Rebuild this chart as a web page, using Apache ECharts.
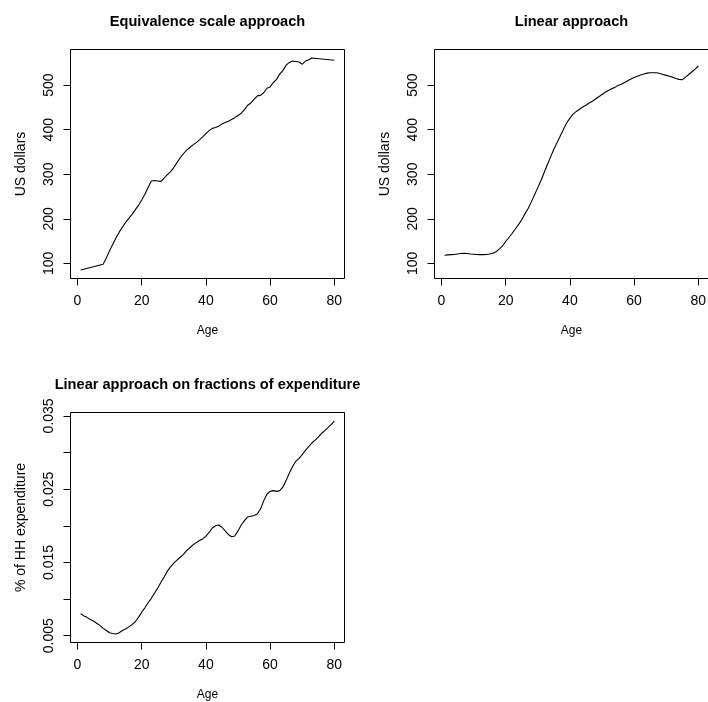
<!DOCTYPE html>
<html>
<head>
<meta charset="utf-8">
<title>Expenditure by age</title>
<script src="https://cdn.jsdelivr.net/npm/echarts@6/dist/echarts.min.js"></script>
<style>
  html, body { margin: 0; padding: 0; background: #fff; }
  #main { width: 708px; height: 702px; }
</style>
</head>
<body>
<div id="main"></div>
<script>
// equivalence scale approach (the curve is straight between 1-8 and 73-80)
var eqAges = [1, 8, 9, 10, 11, 12, 13, 14, 15, 16, 17, 18, 19, 20, 21, 22, 23, 24, 25, 26,
  27, 28, 29, 30, 31, 32, 33, 34, 35, 36, 37, 38, 39, 40, 41, 42, 43, 44, 45, 46, 47, 48,
  49, 50, 51, 52, 53, 54, 55, 56, 57, 58, 59, 60, 61, 62, 63, 64, 65, 66, 67, 68, 69, 70,
  71, 72, 73, 80];
var eqDollars = [85, 98, 112, 128, 143, 157, 170, 181, 192, 201, 210, 220, 230, 242, 255, 270,
  285, 286, 285, 284, 291, 299, 306, 315, 326, 337, 346, 354, 360, 366, 371, 377, 384, 391,
  398, 403, 405, 408, 413, 416, 419, 423, 427, 432, 437, 445, 455, 460, 468, 476, 477, 483,
  493, 496, 506, 513, 525, 533, 545, 551, 554, 553, 552, 547, 554, 557, 561, 556];

// linear approach, and linear approach on fractions of expenditure
var ages = [1, 2, 3, 4, 5, 6, 7, 8, 9, 10, 11, 12, 13, 14, 15, 16, 17, 18, 19, 20,
  21, 22, 23, 24, 25, 26, 27, 28, 29, 30, 31, 32, 33, 34, 35, 36, 37, 38, 39, 40,
  41, 42, 43, 44, 45, 46, 47, 48, 49, 50, 51, 52, 53, 54, 55, 56, 57, 58, 59, 60,
  61, 62, 63, 64, 65, 66, 67, 68, 69, 70, 71, 72, 73, 74, 75, 76, 77, 78, 79, 80];
var linDollars = [118, 119, 119.5, 120, 121, 122, 122.5, 122, 121, 120.5, 120, 119.5, 119.5, 120,
  121, 122.5, 126, 132, 139, 149, 158, 167, 177, 187, 198, 211, 223, 238, 254, 270, 286, 304,
  322, 339, 356, 371, 386, 401, 415, 426, 435, 441, 446, 451, 455, 460, 464, 469, 474, 479,
  484, 488, 492, 495, 499, 502, 506, 510, 514, 517, 520, 523, 525, 527, 528, 528, 528, 526,
  524, 522, 520, 518, 515, 513, 512, 518, 524, 530, 536, 543];
var fracShare = [0.0080, 0.0077, 0.0075, 0.0072, 0.0070, 0.0067, 0.0064, 0.0060, 0.0057, 0.0054,
  0.0053, 0.00523, 0.0054, 0.0057, 0.0059, 0.0062, 0.0065, 0.0069, 0.0075, 0.0082, 0.0088,
  0.0095, 0.0101, 0.0108, 0.0115, 0.0123, 0.0130, 0.0138, 0.0144, 0.0149, 0.0153, 0.0157,
  0.0161, 0.0166, 0.0170, 0.0174, 0.0177, 0.0180, 0.0182, 0.0186, 0.0191, 0.0197, 0.0200,
  0.0201, 0.0198, 0.0193, 0.0188, 0.0185, 0.0186, 0.0193, 0.0201, 0.0207, 0.0212, 0.0213,
  0.0214, 0.0216, 0.0223, 0.0234, 0.0243, 0.0247, 0.0248, 0.0247, 0.0248, 0.0253, 0.0262,
  0.0272, 0.0281, 0.0288, 0.0292, 0.0297, 0.0303, 0.0308, 0.0313, 0.0317, 0.0321, 0.0326,
  0.0330, 0.0334, 0.0338, 0.0343];

var ageTicks = [0, 20, 40, 60, 80];
var dollarTicks = [100, 200, 300, 400, 500];
var shareTicks = [0.005, 0.010, 0.015, 0.020, 0.025, 0.030, 0.035];
var shareTickLabels = ['0.005', '0.015', '0.025', '0.035'];

var titles = ['Equivalence scale approach', 'Linear approach',
  'Linear approach on fractions of expenditure'];

var font = '"Liberation Sans", Arial, Helvetica, sans-serif';
var chart = echarts.init(document.getElementById('main'));

// R style: axis range is the data range stretched by 4% on each side
function pad(vals) {
  var lo = Math.min.apply(null, vals), hi = Math.max.apply(null, vals);
  var d = (hi - lo) * 0.04;
  return [lo - d, hi + d];
}

var grids = [], xAxes = [], yAxes = [], series = [];

function addPanel(box, xs, ys, yRange, yTicks, yLabel, yName) {
  var xRange = pad(xs);
  var g = grids.length;
  var xPx = function (v) { return box.left + box.width * (v - xRange[0]) / (xRange[1] - xRange[0]); };
  var yPx = function (v) { return box.top + box.height * (yRange[1] - v) / (yRange[1] - yRange[0]); };
  var plain = { show: false };

  // plot box with the curve
  grids.push({ left: box.left, top: box.top, width: box.width, height: box.height,
    show: true, borderColor: '#000', borderWidth: 1, backgroundColor: 'transparent',
    containLabel: false, outerBoundsMode: 'none' });
  xAxes.push({ gridIndex: g, type: 'value', min: xRange[0], max: xRange[1],
    axisLine: plain, axisTick: plain, axisLabel: plain, splitLine: plain,
    name: 'Age', nameLocation: 'middle', nameGap: 46, nameMoveOverlap: false,
    nameTextStyle: { fontFamily: font, fontSize: 12, color: '#000' } });
  yAxes.push({ gridIndex: g, type: 'value', min: yRange[0], max: yRange[1],
    axisLine: plain, axisTick: plain, axisLabel: plain, splitLine: plain,
    name: yName, nameLocation: 'middle', nameGap: 42, nameMoveOverlap: false,
    nameTextStyle: { fontFamily: font, fontSize: 14, color: '#000' } });
  series.push({ type: 'line', xAxisIndex: g, yAxisIndex: g,
    data: xs.map(function (a, i) { return [a, ys[i]]; }),
    symbol: 'none', showSymbol: false, silent: true,
    lineStyle: { color: '#000', width: 1.1 } });

  // x ticks, spanning only first..last tick like R
  var tx0 = ageTicks[0], tx1 = ageTicks[ageTicks.length - 1];
  grids.push({ left: xPx(tx0), top: box.top, width: xPx(tx1) - xPx(tx0), height: box.height,
    show: false, containLabel: false, outerBoundsMode: 'none' });
  xAxes.push({ gridIndex: g + 1, type: 'value', min: tx0, max: tx1, interval: ageTicks[1] - ageTicks[0],
    axisLine: { show: false, onZero: false },
    axisTick: { show: true, inside: false, length: 7, lineStyle: { color: '#000', width: 1 } },
    axisLabel: { margin: 16, fontFamily: font, fontSize: 14, color: '#000',
      showMinLabel: true, showMaxLabel: true },
    splitLine: plain });
  yAxes.push({ gridIndex: g + 1, type: 'value', show: false, min: 0, max: 1 });

  // y ticks
  var ty0 = yTicks[0], ty1 = yTicks[yTicks.length - 1];
  grids.push({ left: box.left, top: yPx(ty1), width: box.width, height: yPx(ty0) - yPx(ty1),
    show: false, containLabel: false, outerBoundsMode: 'none' });
  xAxes.push({ gridIndex: g + 2, type: 'value', show: false, min: 0, max: 1 });
  yAxes.push({ gridIndex: g + 2, type: 'value', min: ty0, max: ty1, interval: yTicks[1] - yTicks[0],
    axisLine: { show: false, onZero: false },
    axisTick: { show: true, inside: false, length: 7, lineStyle: { color: '#000', width: 1 } },
    axisLabel: { rotate: 90, margin: 14, fontFamily: font, fontSize: 14, color: '#000',
      showMinLabel: true, showMaxLabel: true, formatter: yLabel },
    splitLine: plain });
}

var dollarRange = pad(eqDollars);
addPanel({ left: 70.5, top: 49.5, width: 274, height: 229 }, eqAges, eqDollars, dollarRange,
  dollarTicks, function (v) { return String(Math.round(v)); }, 'US dollars');
addPanel({ left: 434.5, top: 49.5, width: 274, height: 229 }, ages, linDollars, dollarRange,
  dollarTicks, function (v) { return String(Math.round(v)); }, 'US dollars');
addPanel({ left: 70.5, top: 412.5, width: 274, height: 230 }, ages, fracShare, pad(fracShare),
  shareTicks, function (v) {
    var s = v.toFixed(3);
    return shareTickLabels.indexOf(s) >= 0 ? s : '';
  }, '% of HH expenditure');

var titleStyle = { fontFamily: font, fontSize: 14.6, fontWeight: 'bold', color: '#000' };
var option = {
  animation: false,
  backgroundColor: '#fff',
  title: [
    { text: titles[0], left: 207.5, top: 14, padding: 0, textAlign: 'center', textStyle: titleStyle },
    { text: titles[1], left: 571.5, top: 14, padding: 0, textAlign: 'center', textStyle: titleStyle },
    { text: titles[2], left: 207.5, top: 377.5, padding: 0, textAlign: 'center', textStyle: titleStyle }
  ],
  grid: grids,
  xAxis: xAxes,
  yAxis: yAxes,
  series: series
};
chart.setOption(option);
</script>
</body>
</html>
